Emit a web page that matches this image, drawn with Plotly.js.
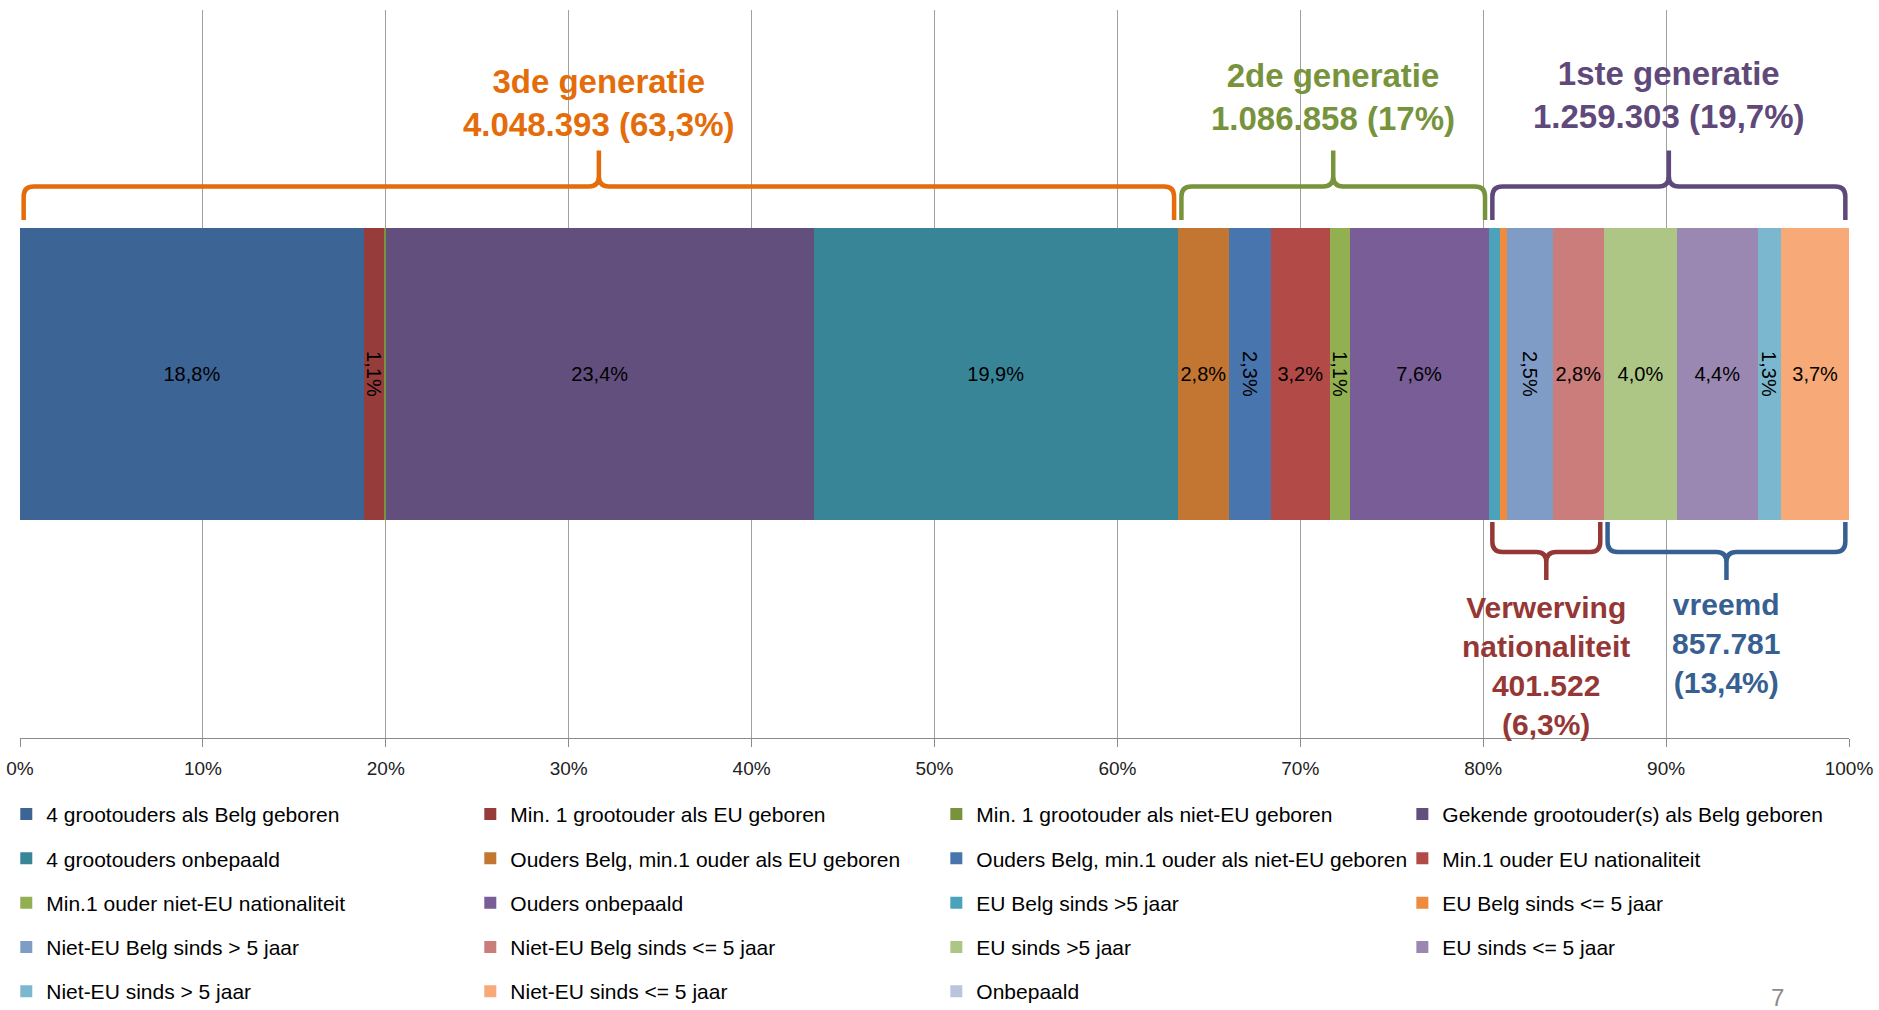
<!DOCTYPE html>
<html>
<head>
<meta charset="utf-8">
<script src="https://cdn.plot.ly/plotly-3.0.1.min.js"></script>
<style>html,body{margin:0;padding:0;background:#fff;}#chart{width:1879px;height:1010px;}</style>
</head>
<body>
<div id="chart"></div>
<script>
// ---- data ----
const categories = [
  "4 grootouders als Belg geboren",
  "Min. 1 grootouder als EU geboren",
  "Min. 1 grootouder als niet-EU geboren",
  "Gekende grootouder(s) als Belg geboren",
  "4 grootouders onbepaald",
  "Ouders Belg, min.1 ouder als EU geboren",
  "Ouders Belg, min.1 ouder als niet-EU geboren",
  "Min.1 ouder EU nationaliteit",
  "Min.1 ouder niet-EU nationaliteit",
  "Ouders onbepaald",
  "EU Belg sinds >5 jaar",
  "EU Belg sinds <= 5 jaar",
  "Niet-EU Belg sinds > 5 jaar",
  "Niet-EU Belg sinds <= 5 jaar",
  "EU sinds >5 jaar",
  "EU sinds <= 5 jaar",
  "Niet-EU sinds > 5 jaar",
  "Niet-EU sinds <= 5 jaar",
  "Onbepaald"
];
const values = [18.8, 1.1, 0.1, 23.4, 19.9, 2.8, 2.3, 3.2, 1.1, 7.6, 0.6, 0.4, 2.5, 2.8, 4.0, 4.4, 1.3, 3.7, 0.0];
const tickValues = [0, 10, 20, 30, 40, 50, 60, 70, 80, 90, 100];

const groupNames = ["3de generatie", "2de generatie", "1ste generatie"];
const groupCounts = [4048393, 1086858, 1259303];
const groupPcts = [63.3, 17, 19.7];
const groupFirst = [0, 5, 10];
const groupLast = [4, 9, 18];

const subNames = ["Verwerving<br>nationaliteit", "vreemd"];
const subCounts = [401522, 857781];
const subPcts = [6.3, 13.4];
const subFirst = [10, 14];
const subLast = [13, 17];

// ---- styles ----
const colors = ["#3C6495","#963C3A","#77933C","#634F7D","#388598","#C37532","#4875AD","#B24A47",
  "#92AF51","#785D96","#4AA2BB","#F08A3C","#7F9CC7","#CB7D7B","#ADC685","#9B88B2","#7BB8CF","#F7AA78","#B9C4DE"];
const groupColors = ["#E46C0A", "#77933C", "#5F497A"];
const subColors = ["#953735", "#376092"];
const FONT = "Liberation Sans, Arial, sans-serif";

const fmtInt = n => String(n).replace(/\B(?=(\d{3})+(?!\d))/g, ".");
const fmtPct = p => String(p).replace(".", ",") + "%";

const cum = [0];
values.forEach((v, i) => cum.push(cum[i] + v));

const legendIds = ["legend", "legend2", "legend3", "legend4"];

const traces = categories.map((name, i) => {
  const v = values[i];
  const show = v >= 1;
  return {
    type: "bar",
    orientation: "h",
    name: name,
    x: [v],
    y: [0],
    marker: {color: colors[i], line: {width: 0}},
    text: [show ? v.toFixed(1).replace(".", ",") + "%" : ""],
    textposition: "inside",
    insidetextanchor: "middle",
    constraintext: "none",
    textangle: (show && v < 2.6) ? 90 : 0,
    textfont: {family: FONT, size: 20, color: "#000"},
    legend: legendIds[i % 4],
    legendgroup: "g" + i,
    hoverinfo: "skip"
  };
});

// braces
const rx = 0.55, ry = 0.014;
function topBrace(x0, x1, yEnd, yMid, yTip) {
  const m = (x0 + x1) / 2;
  return `M${x0},${yEnd} L${x0},${yMid - ry} Q${x0},${yMid} ${x0 + rx},${yMid} L${m - rx},${yMid} Q${m},${yMid} ${m},${yMid + ry} L${m},${yTip} ` +
         `M${m},${yMid + ry} Q${m},${yMid} ${m + rx},${yMid} L${x1 - rx},${yMid} Q${x1},${yMid} ${x1},${yMid - ry} L${x1},${yEnd}`;
}
function botBrace(x0, x1, yEnd, yMid, yTip) {
  const m = (x0 + x1) / 2;
  return `M${x0},${yEnd} L${x0},${yMid + ry} Q${x0},${yMid} ${x0 + rx},${yMid} L${m - rx},${yMid} Q${m},${yMid} ${m},${yMid - ry} L${m},${yTip} ` +
         `M${m},${yMid - ry} Q${m},${yMid} ${m + rx},${yMid} L${x1 - rx},${yMid} Q${x1},${yMid} ${x1},${yMid + ry} L${x1},${yEnd}`;
}
const inset = 0.2;
const shapes = [];
const annotations = [];
const topTextY = [0.8716, 0.8805, 0.8839];
groupNames.forEach((g, k) => {
  const x0 = cum[groupFirst[k]] + inset, x1 = cum[groupLast[k] + 1] - inset;
  shapes.push({type: "path", xref: "x", yref: "paper", path: topBrace(x0, x1, 0.7115, 0.7575, 0.807),
    line: {color: groupColors[k], width: 4.5}, fillcolor: "rgba(0,0,0,0)"});
  annotations.push({xref: "x", yref: "paper", x: (x0 + x1) / 2, y: topTextY[k], xanchor: "center", yanchor: "middle",
    showarrow: false, text: "<b>" + g + "<br>" + fmtInt(groupCounts[k]) + " (" + fmtPct(groupPcts[k]) + ")</b>",
    font: {family: FONT, size: 33, color: groupColors[k]}});
});
const subTextY = [0.0993, 0.1298];
subNames.forEach((g, k) => {
  const x0 = cum[subFirst[k]] + inset, x1 = cum[subLast[k] + 1] - inset;
  shapes.push({type: "path", xref: "x", yref: "paper", path: botBrace(x0, x1, 0.2967, 0.2555, 0.217),
    line: {color: subColors[k], width: 4.5}, fillcolor: "rgba(0,0,0,0)"});
  annotations.push({xref: "x", yref: "paper", x: (x0 + x1) / 2, y: subTextY[k], xanchor: "center", yanchor: "middle",
    showarrow: false, text: "<b>" + g + "<br>" + fmtInt(subCounts[k]) + "<br>(" + fmtPct(subPcts[k]) + ")</b>",
    font: {family: FONT, size: 30, color: subColors[k]}});
});
annotations.push({xref: "paper", yref: "paper", x: 0.961, y: -0.357, xanchor: "center", yanchor: "middle",
  showarrow: false, text: "7", font: {family: FONT, size: 24, color: "#8C8C8C"}});

const legendX = [-0.0075, 0.2462, 0.501, 0.7558];
const legendBase = {orientation: "v", xanchor: "left", yanchor: "top", y: -0.0768,
  font: {family: FONT, size: 21, color: "#000"}, bgcolor: "rgba(0,0,0,0)", tracegroupgap: 14,
  itemclick: false, itemdoubleclick: false};

const layout = {
  width: 1879, height: 1010,
  margin: {l: 20, r: 30, t: 10, b: 272, autoexpand: false},
  paper_bgcolor: "#fff", plot_bgcolor: "#fff",
  barmode: "stack", bargap: 0.6,
  hovermode: false,
  font: {family: FONT},
  xaxis: {range: [0, 100], tickvals: tickValues, ticktext: tickValues.map(t => t + "%"),
    showgrid: true, gridcolor: "#A0A0A0", gridwidth: 1, zeroline: false,
    showline: true, linecolor: "#8A8A8A", linewidth: 1, ticks: "outside", ticklen: 8, tickcolor: "#8A8A8A",
    ticklabelstandoff: 5, tickfont: {family: FONT, size: 19, color: "#222"}, fixedrange: true},
  yaxis: {range: [-0.5, 0.5], showticklabels: false, showgrid: false, zeroline: false, showline: false, ticks: "", fixedrange: true},
  shapes: shapes,
  annotations: annotations,
  showlegend: true
};
legendIds.forEach((id, k) => { layout[id] = Object.assign({}, legendBase, {x: legendX[k]}); });

Plotly.newPlot("chart", traces, layout, {displayModeBar: false, staticPlot: true});
</script>
</body>
</html>
